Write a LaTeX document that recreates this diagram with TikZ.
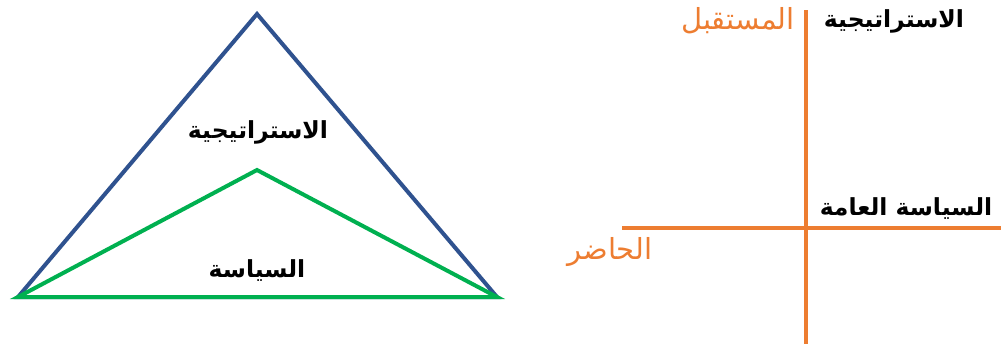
\documentclass[tikz,border=0pt]{standalone}
\usepackage{fontspec}
\TeXXeTstate=1
\newfontfamily\arabicfont[Script=Arabic]{DejaVu Sans}
\definecolor{tblue}{RGB}{47,82,143}
\definecolor{tgreen}{RGB}{0,176,80}
\definecolor{torange}{RGB}{237,125,49}
\begin{document}
\begin{tikzpicture}[x=1pt,y=-1pt,
  bline/.style={line width=4pt,line join=miter},
  oline/.style={draw=torange,line width=4pt},
  blab/.style={font=\arabicfont\bfseries\fontsize{23.5}{26}\selectfont,text=black,inner sep=0pt},
  olab/.style={font=\arabicfont\fontsize{29}{32}\selectfont,text=torange,inner sep=0pt}]
\useasboundingbox (0,0) rectangle (1001,349);
% triangles
\coordinate (A) at (257,14);
\coordinate (L) at (18,297);
\coordinate (R) at (497,297);
\coordinate (G) at (257,170);
\draw[bline,draw=tblue] (A) -- (R) -- (L) -- cycle;
\draw[bline,draw=tgreen] (G) -- (R) -- (L) -- cycle;
\node[blab] (t1) at (258,132) {\beginR الاستراتيجية\endR};
\node[blab] (t2) at (257,271) {\beginR السياسة\endR};
% axes
\coordinate (vtop) at (806,10);
\coordinate (vbot) at (806,344);
\coordinate (hl) at (622,228);
\coordinate (hr) at (1001,228);
\draw[oline] (vtop) -- (vbot);
\draw[oline] (hl) -- (hr);
\node[olab] (fut) at (738,21) {\beginR المستقبل\endR};
\node[blab] (s1) at (894,21) {\beginR الاستراتيجية\endR};
\node[blab] (s2) at (906,209) {\beginR السياسة العامة\endR};
\node[olab] (pres) at (610,252) {\beginR الحاضر\endR};
\end{tikzpicture}
\end{document}
